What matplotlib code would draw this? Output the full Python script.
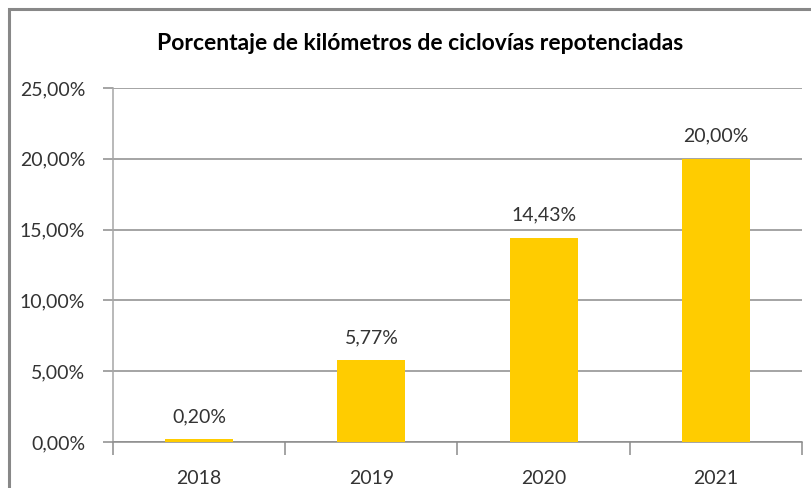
import numpy as np
import matplotlib.pyplot as plt
from matplotlib.patches import Rectangle

# data
years = ['2018', '2019', '2020', '2021']
pct = [0.20, 5.77, 14.43, 20.00]
yticks = [0, 5, 10, 15, 20, 25]

plt.rcParams['font.family'] = ['Lato', 'DejaVu Sans']

fig = plt.figure(figsize=(8.12, 4.88), dpi=100)
ax = fig.add_axes([113/812, 1-442/488, (802-113)/812, (442-88)/488])

# outer chart frame (only top and left visible, rest is cut off)
fig.patches.append(Rectangle((9/812, -0.1), 1.2, 1-9/488+0.1, transform=fig.transFigure,
                             fill=False, edgecolor='#888888', linewidth=2.2))

x = np.arange(len(years))
ax.bar(x, pct, width=0.395, color='#FFCC00', zorder=3)

for xi, v in zip(x, pct):
    lbl = ('%.2f%%' % v).replace('.', ',')
    ax.annotate(lbl, (xi, v), xytext=(0, 14), textcoords='offset pixels',
                ha='center', va='bottom', fontsize=14, color='#333333')

ax.set_ylim(0, 25)
ax.set_xlim(-0.5, len(years) - 0.5)
ax.set_yticks(yticks)
ax.set_yticklabels([('%.2f%%' % t).replace('.', ',') for t in yticks])
ax.grid(axis='y', color='#8c8c8c', linewidth=1.1, zorder=0)
ax.set_axisbelow(True)

# category ticks sit between the bars
ax.set_xticks(x)
ax.set_xticklabels(years)
ax.set_xticks(np.arange(-0.5, len(years)), minor=True)
ax.tick_params(axis='x', which='major', length=0, pad=20, labelsize=14, labelcolor='#333333')
ax.tick_params(axis='x', which='minor', length=9, width=1.1, color='#8c8c8c')
ax.tick_params(axis='y', length=7, width=1.1, color='#8c8c8c', pad=13,
               labelsize=14, labelcolor='#333333')

for s in ['top', 'right']:
    ax.spines[s].set_visible(False)
ax.spines['left'].set_color('#a6a6a6')
ax.spines['bottom'].set_color('#8c8c8c')
ax.spines['left'].set_linewidth(1.1)
ax.spines['bottom'].set_linewidth(1.1)

fig.text(0.517, 1-44/488, 'Porcentaje de kilómetros de ciclovías repotenciadas',
         ha='center', va='center', fontsize=16.5, fontweight='bold', color='black')

fig.savefig('out.png', dpi=100)
